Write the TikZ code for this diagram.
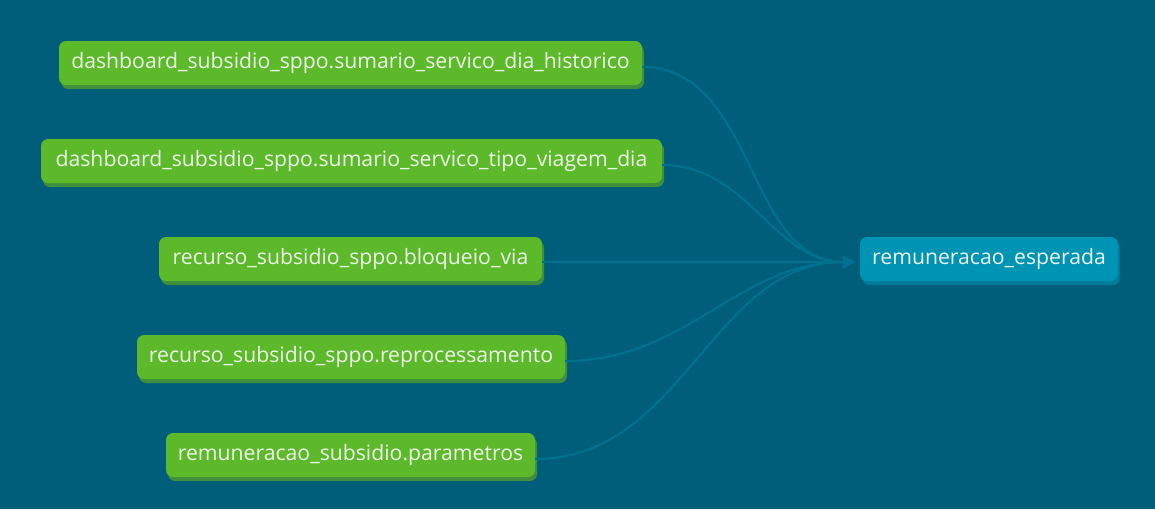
\documentclass[tikz,border=0pt]{standalone}
\usepackage{fontspec}
\setmainfont{Open Sans}
\usetikzlibrary{arrows.meta,shadows}
\definecolor{fond}{HTML}{005E7A}
\definecolor{vert}{HTML}{5CB92A}
\definecolor{vertombre}{HTML}{3F8F3D}
\definecolor{bleu}{HTML}{0094B4}
\definecolor{bleuombre}{HTML}{007B99}
\definecolor{lien}{HTML}{00728F}
\definecolor{texte}{HTML}{EEF3EA}
\begin{document}
\begin{tikzpicture}[x=1pt,y=-1pt,
  modele/.style={rounded corners=7pt,minimum height=44pt,inner sep=0pt,text=texte,font=\fontsize{21.2}{21.2}\selectfont},
  source/.style={modele,fill=vert,drop shadow={shadow xshift=2pt,shadow yshift=-4pt,fill=vertombre,opacity=1}},
  cible/.style={modele,fill=bleu,drop shadow={shadow xshift=2pt,shadow yshift=-4pt,fill=bleuombre,opacity=1}},
  lien/.style={draw=lien,line width=2pt,-{Triangle[width=12pt,length=12pt]},shorten >=5pt}]
\fill[fond](0,0)rectangle(1155,509);
\useasboundingbox(0,0)rectangle(1155,509);
\node[source,minimum width=583pt](hist)at(350.5,63){dashboard\_subsidio\_sppo.sumario\_servico\_dia\_historico};
\node[source,minimum width=621pt](tipo)at(351.5,161){dashboard\_subsidio\_sppo.sumario\_servico\_tipo\_viagem\_dia};
\node[source,minimum width=383pt](bloq)at(350.5,259){recurso\_subsidio\_sppo.bloqueio\_via};
\node[source,minimum width=428pt](repr)at(351,357){recurso\_subsidio\_sppo.reprocessamento};
\node[source,minimum width=369pt](para)at(350.5,455){remuneracao\_subsidio.parametros};
\node[cible,minimum width=258pt](esp)at(989,259){remuneracao\_esperada};
% liens vers le modele final
\draw[lien]([yshift=-4pt]hist.east)to[out=0,in=180]([yshift=-3pt]esp.west);
\draw[lien]([yshift=-4pt]tipo.east)to[out=0,in=180]([yshift=-3pt]esp.west);
\draw[lien]([yshift=-3pt]bloq.east)--([yshift=-3pt]esp.west);
\draw[lien]([yshift=-4pt]repr.east)to[out=0,in=180]([yshift=-3pt]esp.west);
\draw[lien]([yshift=-4pt]para.east)to[out=0,in=180]([yshift=-3pt]esp.west);
\end{tikzpicture}
\end{document}
